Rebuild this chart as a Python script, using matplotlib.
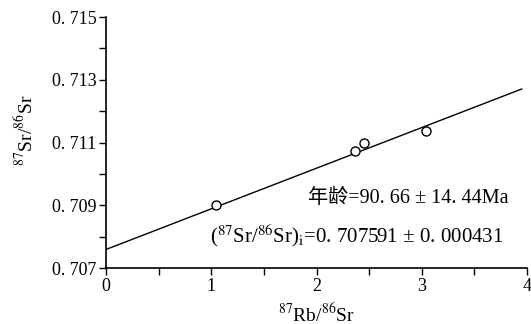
import matplotlib
matplotlib.use("Agg")
import matplotlib.pyplot as plt
from matplotlib.ticker import FixedLocator, MultipleLocator, FuncFormatter

# --- données ---
rb_sr = [1.045, 2.37, 2.45, 3.04]
sr_sr = [0.70901, 0.71074, 0.71100, 0.71136]
intercept = 0.707591
slope = 0.001295
line_x = [0, 3.95]
y_ticks = [0.707, 0.709, 0.711, 0.713, 0.715]
age_text = "年龄=90. 66 ± 14. 44Ma"
init_text = r"($^{87}$Sr/$^{86}$Sr)$_{\rm i}$=0. 707591 ± 0. 000431"

plt.rcParams['font.family'] = ['Liberation Serif', 'Noto Sans CJK SC', 'DejaVu Sans']
plt.rcParams['mathtext.fontset'] = 'stix'

fig = plt.figure(figsize=(5.31, 3.24), dpi=100)
ax = fig.add_axes([0.1996, 0.1728, 0.7929, 0.7747])

line_y = [intercept + slope * x for x in line_x]
ax.plot(line_x, line_y, color='black', linewidth=1.0)
ax.plot(rb_sr, sr_sr, linestyle='none', marker='o', markersize=6.5,
        markerfacecolor='white', markeredgecolor='black', markeredgewidth=1.0)

ax.set_xlim(0, 4)
ax.set_ylim(0.707, 0.715)
ax.xaxis.set_major_locator(MultipleLocator(1))
ax.xaxis.set_minor_locator(MultipleLocator(0.5))
ax.yaxis.set_major_locator(FixedLocator(y_ticks))
ax.yaxis.set_minor_locator(MultipleLocator(0.001))
ax.yaxis.set_major_formatter(FuncFormatter(lambda v, p: f"{v:.3f}".replace(".", ". ")))
ax.xaxis.set_major_formatter(FuncFormatter(lambda v, p: f"{v:g}"))

for s in ['top', 'right']:
    ax.spines[s].set_visible(False)
for s in ['left', 'bottom']:
    ax.spines[s].set_linewidth(1.2)
ax.tick_params(which='major', length=5, width=1.0, labelsize=13, direction='out', pad=2)
ax.tick_params(which='minor', length=5, width=1.0, direction='out')

ax.set_xlabel(r"$^{87}$Rb/$^{86}$Sr", fontsize=14, labelpad=6)
ax.set_ylabel(r"$^{87}$Sr/$^{86}$Sr", fontsize=14, labelpad=14)
ax.yaxis.set_label_coords(-0.165, 0.55)

ax.text(3.82, 0.70923, age_text, fontsize=14.5, ha='right', va='center')
ax.text(0.99, 0.70804, init_text, fontsize=15, ha='left', va='center')

fig.savefig("out.png", dpi=100)
